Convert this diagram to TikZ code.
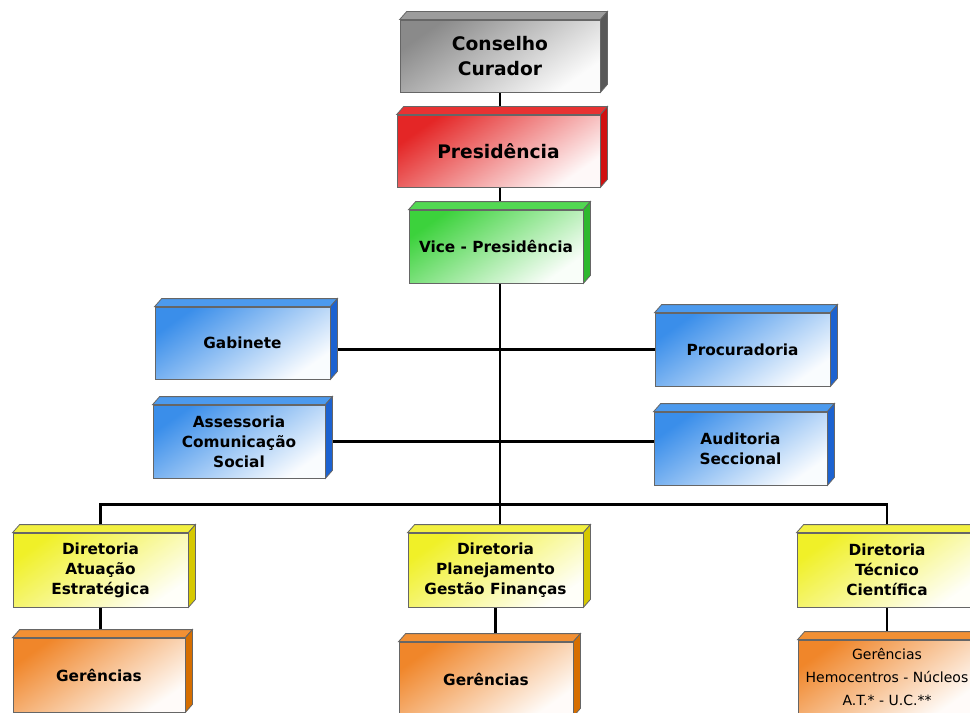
\documentclass[tikz,border=0pt]{standalone}
\usepackage{fontspec}
\setmainfont{DejaVu Sans}
\usetikzlibrary{calc}

\pgfdeclarelayer{paper}
\pgfdeclarelayer{links}
\pgfsetlayers{paper,links,main}

% front / top / side tones of each box family
\definecolor{grayF}{HTML}{8A8A8A}\definecolor{grayT}{HTML}{9C9C9C}\definecolor{grayS}{HTML}{585858}
\definecolor{redF}{HTML}{E42626}\definecolor{redT}{HTML}{E83232}\definecolor{redS}{HTML}{D01010}
\definecolor{greenF}{HTML}{3CD23C}\definecolor{greenT}{HTML}{52D852}\definecolor{greenS}{HTML}{2EB82E}
\definecolor{blueF}{HTML}{3A8EEA}\definecolor{blueT}{HTML}{4C9AEE}\definecolor{blueS}{HTML}{1C62D0}
\definecolor{yellowF}{HTML}{F0F028}\definecolor{yellowT}{HTML}{F2F040}\definecolor{yellowS}{HTML}{D6C800}
\definecolor{orangeF}{HTML}{F0862A}\definecolor{orangeT}{HTML}{F29034}\definecolor{orangeS}{HTML}{D66E00}

\tikzset{
  face/.style={draw=black!60, line width=0.6pt},
  orgbox/.style={face, align=center, inner sep=0pt,
    font=\bfseries\fontsize{11.5}{15}\selectfont},
  bigtext/.style={font=\bfseries\fontsize{14}{18.5}\selectfont},
  smalltext/.style={font=\mdseries\fontsize{10.5}{17.5}\selectfont},
  link/.style={line width=2pt, black},
}

% 3-D box: [options]{name}{cx}{cy}{width}{height}{tone}{text}  (pixel units)
\newcommand{\orgcube}[8][]{%
  \node[orgbox, minimum width=#5*0.75pt, minimum height=#6*0.75pt,
        top color=#7F, bottom color=#7F!3!white, shading angle=35, #1]
        (#2) at (#3,#4) {#8};
  \filldraw[face, fill=#7T] (#2.north west) -- ++(7,-8)
    -- ($(#2.north east)+(7,-8)$) -- (#2.north east) -- cycle;
  \filldraw[face, fill=#7S] (#2.north east) -- ++(7,-8)
    -- ($(#2.south east)+(7,-8)$) -- (#2.south east) -- cycle;
}

\begin{document}
\begin{tikzpicture}[x=0.75pt, y=-0.75pt]
  \useasboundingbox (0,0) rectangle (970,713);
  \begin{pgfonlayer}{paper}
    \fill[white] (0,0) rectangle (970,713);
  \end{pgfonlayer}
  \clip (0,0) rectangle (970,713);

  \orgcube[bigtext]{cons}{500}{56}{200}{72}{gray}{Conselho\\Curador}
  \orgcube[bigtext]{pres}{498.5}{151}{203}{72}{red}{Presidência}
  \orgcube{vice}{496}{246.5}{174}{73}{green}{Vice - Presidência}

  \orgcube{gab}{242.5}{343}{175}{72}{blue}{Gabinete}
  \orgcube{ass}{239}{441.5}{172}{73}{blue}{Assessoria\\Comunicação\\Social}
  \orgcube{proc}{742.5}{349.5}{175}{73}{blue}{Procuradoria}
  \orgcube{aud}{740.5}{448.5}{173}{73}{blue}{Auditoria\\Seccional}

  \orgcube{dir1}{100.5}{570}{175}{74}{yellow}{Diretoria\\Atuação\\Estratégica}
  \orgcube{dir2}{495.5}{570}{175}{74}{yellow}{Diretoria\\Planejamento\\Gestão Finanças}
  \orgcube{dir3}{887}{570}{180}{74}{yellow}{Diretoria\\Técnico\\Científica}

  \orgcube{ger1}{99}{675}{172}{74}{orange}{Gerências}
  \orgcube{ger2}{486}{679}{174}{74}{orange}{Gerências}
  \orgcube[smalltext]{ger3}{887}{677}{178}{74}{orange}{Gerências\\Hemocentros - Núcleos\\A.T.* - U.C.**}

  \begin{pgfonlayer}{links}
    % main spine down to the directorates
    \draw[link] (cons.south) -- (cons.south |- dir2.north);
    % staff units on both sides
    \draw[link] (proc.west) -- (proc.west -| gab.east);
    \draw[link] (ass.east) -- (ass.east -| aud.west);
    % directorate bus
    \draw[link] (dir1.north) -- ++(0,-28) -| (dir3.north);
    % directorates to their managements
    \draw[link] (dir1.south) -- (dir1.south |- ger1.north);
    \draw[link] (dir2.south) -- (dir2.south |- ger2.north);
    \draw[link] (dir3.south) -- (dir3.south |- ger3.north);
  \end{pgfonlayer}
\end{tikzpicture}
\end{document}
